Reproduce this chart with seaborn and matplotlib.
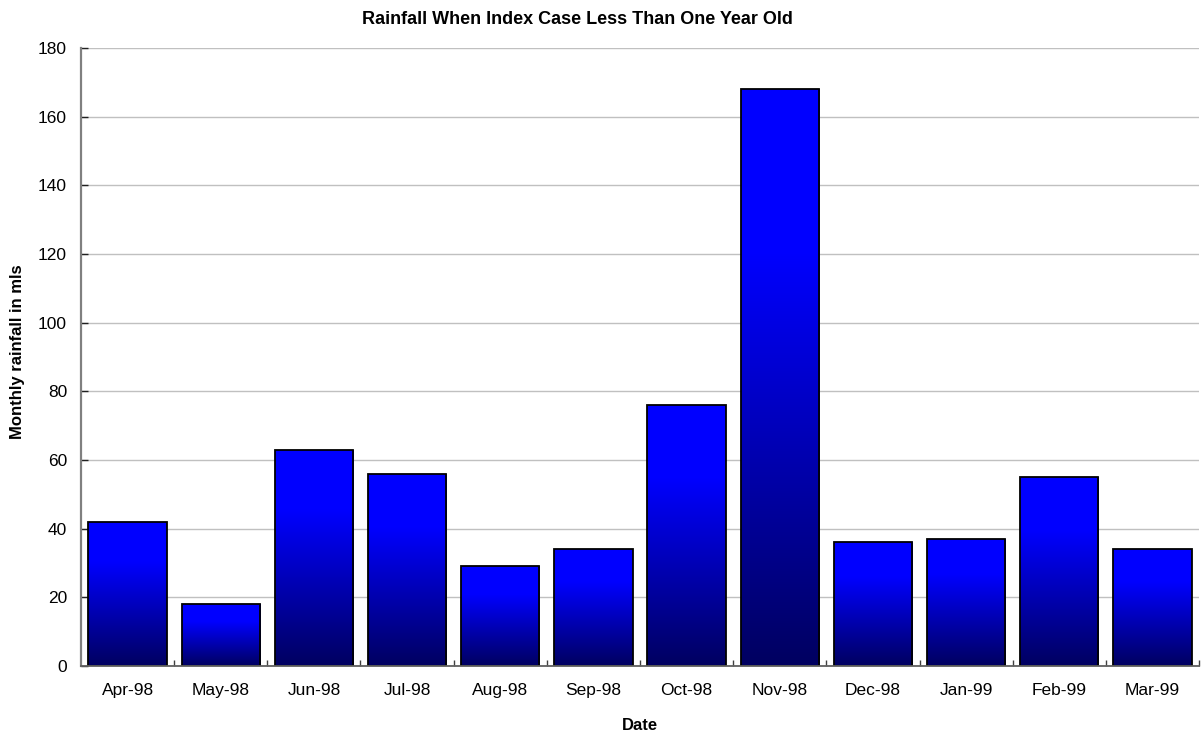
import numpy as np
import pandas as pd
import matplotlib
matplotlib.use("Agg")
import matplotlib.pyplot as plt
from matplotlib.colors import LinearSegmentedColormap
from matplotlib.ticker import MultipleLocator, FixedLocator
import seaborn as sns

months = ["Apr-98", "May-98", "Jun-98", "Jul-98", "Aug-98", "Sep-98",
          "Oct-98", "Nov-98", "Dec-98", "Jan-99", "Feb-99", "Mar-99"]
rainfall = [42, 18, 63, 56, 29, 34, 76, 168, 36, 37, 55, 34]

df = pd.DataFrame({"Date": months, "Rainfall": rainfall})

sns.set_theme(style="white")
plt.rcParams["font.family"] = ["Liberation Sans", "DejaVu Sans"]
plt.rcParams["text.color"] = "black"

W, H = 1203, 733
fig = plt.figure(figsize=(W / 100, H / 100), dpi=100)
ax = fig.add_axes([81 / W, 1 - 666 / H, (1199 - 81) / W, (666 - 48) / H])

sns.barplot(data=df, x="Date", y="Rainfall", ax=ax, width=0.84,
            color="#0000ff", edgecolor="black", linewidth=1.3, zorder=3)

# vertical gradient fill for each bar: navy at the base, bright blue toward the top
cmap = LinearSegmentedColormap.from_list(
    "rain", [(0.0, "#000060"), (0.72, "#0000ff"), (1.0, "#0000ff")])
grad = np.linspace(0, 1, 256).reshape(-1, 1)
for patch in ax.patches:
    x0, y0 = patch.get_x(), patch.get_y()
    w, h = patch.get_width(), patch.get_height()
    im = ax.imshow(grad, cmap=cmap, origin="lower", aspect="auto",
                   extent=(x0, x0 + w, y0, y0 + h), zorder=3.5,
                   interpolation="bilinear")
    im.set_clip_path(patch)
    patch.set_facecolor("none")
    patch.set_zorder(4)

ax.set_xlim(-0.5, len(months) - 0.5)
ax.set_ylim(0, 180)
ax.yaxis.set_major_locator(MultipleLocator(20))
ax.grid(axis="y", color="#c0c0c0", linewidth=1, zorder=0)
ax.grid(axis="x", visible=False)
ax.set_axisbelow(True)

for side in ("top", "right"):
    ax.spines[side].set_visible(False)
ax.spines["left"].set_color("#808080")
ax.spines["left"].set_linewidth(1.6)
ax.spines["bottom"].set_color("#606060")
ax.spines["bottom"].set_linewidth(1.3)
for side in ("left", "bottom"):
    ax.spines[side].set_zorder(5)

# category boundary ticks point into the plot
ax.xaxis.set_minor_locator(FixedLocator(np.arange(0.5, len(months), 1.0)))
ax.tick_params(axis="x", which="major", length=0, pad=12, labelsize=12.5, labelcolor="black")
ax.tick_params(axis="x", which="minor", length=4, width=1, color="#404040",
               direction="in", bottom=True)
ax.tick_params(axis="y", which="major", length=5, width=1, color="#202020",
               direction="in", left=True, labelsize=12.5, pad=10, labelcolor="black")

ax.set_xlabel("Date", fontsize=12, fontweight="bold", color="black")
ax.xaxis.set_label_coords(640 / W, 1 - 725 / H, transform=fig.transFigure)
ax.xaxis.label.set_va("center")
ax.set_ylabel("Monthly rainfall in mls", fontsize=12, fontweight="bold", color="black")
ax.yaxis.set_label_coords(18 / W, 1 - 352 / H, transform=fig.transFigure)
ax.yaxis.label.set_va("center")

fig.text(577.5 / W, 1 - 19.5 / H, "Rainfall When Index Case Less Than One Year Old",
         fontsize=13, fontweight="bold", ha="center", va="center", color="black")

fig.savefig("out.png", dpi=100, facecolor="white")
